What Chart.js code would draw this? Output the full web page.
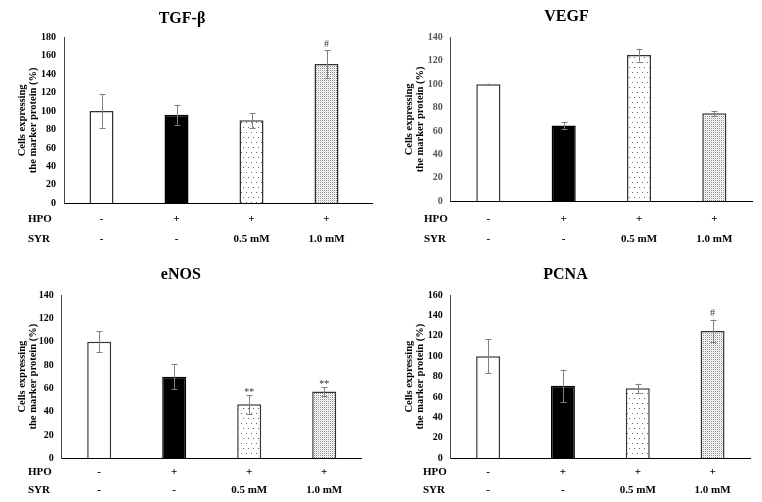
<!DOCTYPE html>
<html><head><meta charset="utf-8">
<script src="https://cdn.jsdelivr.net/npm/chart.js@4.4.1/dist/chart.umd.min.js"></script>
<style>
html,body{margin:0;padding:0;background:#fff;overflow:hidden;}
#wrap{position:relative;width:762px;height:502px;background:#fff;}
canvas{position:absolute;}
</style></head><body>
<div id="wrap">
<canvas id="c1" width="381" height="251" style="left:0;top:0"></canvas>
<canvas id="c2" width="381" height="251" style="left:381px;top:0"></canvas>
<canvas id="c3" width="381" height="251" style="left:0;top:251px"></canvas>
<canvas id="c4" width="381" height="251" style="left:381px;top:251px"></canvas>
</div>
<script>
// ---- data ----
const hpoRow = ['-', '+', '+', '+'];
const syrRow = ['-', '-', '0.5 mM', '1.0 mM'];
const rowNames = ['HPO', 'SYR'];
const yTitle = ['Cells expressing', 'the marker protein (%)'];

const tgfMeans = [100, 96, 90, 151];
const tgfErrors = [18, 11, 8, 15];
const tgfMarks = ['', '', '', '#'];
const tgfMax = 180;

const vegfMeans = [100, 64.8, 124.8, 75.2];
const vegfErrors = [0.5, 3, 5.5, 2.3];
const vegfMarks = ['', '', '', ''];
const vegfMax = 140;

const enosMeans = [100, 70, 46.3, 57.3];
const enosErrors = [9, 11, 8, 3.6];
const enosMarks = ['', '', '**', '**'];
const enosMax = 140;

const pcnaMeans = [100, 71, 68.6, 124.7];
const pcnaErrors = [16.5, 16, 4.5, 11.2];
const pcnaMarks = ['', '', '', '#'];
const pcnaMax = 160;

const yStep = 20;

// ---- styles ----
const SERIF = '"Liberation Serif", "Times New Roman", serif';

function sparsePattern() {
  const c = document.createElement('canvas'); c.width = 5; c.height = 10;
  const g = c.getContext('2d');
  g.fillStyle = '#fff'; g.fillRect(0, 0, 5, 10);
  g.fillStyle = '#666';
  g.fillRect(1, 2, 1, 1); g.fillRect(3, 7, 1, 1);
  return g.createPattern(c, 'repeat');
}
function densePattern() {
  const c = document.createElement('canvas'); c.width = 2; c.height = 2;
  const g = c.getContext('2d');
  g.fillStyle = '#ffffff'; g.fillRect(0, 0, 2, 2);
  g.fillStyle = '#8e8e8e'; g.fillRect(0, 0, 1, 1);
  g.fillStyle = '#e0e0e0'; g.fillRect(1, 1, 1, 1);
  return g.createPattern(c, 'repeat');
}
const fills = ['#ffffff', '#000000', sparsePattern(), densePattern()];
const borders = ['#333333', '#000000', '#333333', '#333333'];

const extras = {
  id: 'extras',
  afterDatasetsDraw(chart, args, opts) {
    const ctx = chart.ctx, ys = chart.scales.y;
    const meta = chart.getDatasetMeta(0);
    const vals = chart.data.datasets[0].data;
    ctx.save();
    meta.data.forEach((bar, i) => {
      const m = vals[i], e = opts.errors[i];
      const yt = ys.getPixelForValue(m + e), yb = ys.getPixelForValue(m - e);
      const x = Math.round(bar.x) + 0.5;
      ctx.strokeStyle = '#808080'; ctx.lineWidth = 1;
      ctx.beginPath();
      ctx.moveTo(x, yt); ctx.lineTo(x, yb);
      ctx.moveTo(x - 3, Math.round(yt) + 0.5); ctx.lineTo(x + 3, Math.round(yt) + 0.5);
      ctx.moveTo(x - 3, Math.round(yb) + 0.5); ctx.lineTo(x + 3, Math.round(yb) + 0.5);
      ctx.stroke();
      const mk = opts.marks[i];
      if (mk) {
        ctx.fillStyle = '#333';
        ctx.font = '10px ' + SERIF;
        ctx.textAlign = 'center'; ctx.textBaseline = 'middle';
        ctx.fillText(mk, bar.x, yt - (mk === '#' ? 6 : 3));
      }
    });
    ctx.restore();
  },
  afterDraw(chart, args, opts) {
    const ctx = chart.ctx, xs = chart.scales.x, area = chart.chartArea;
    ctx.save();
    if (opts.extend) {
      const y = Math.round(area.bottom) + 0.5;
      ctx.strokeStyle = '#000'; ctx.lineWidth = 1;
      ctx.beginPath(); ctx.moveTo(area.right, y); ctx.lineTo(area.right + opts.extend, y); ctx.stroke();
    }
    ctx.fillStyle = '#000';
    ctx.font = 'bold 11px ' + SERIF;
    ctx.textAlign = 'left'; ctx.textBaseline = 'middle';
    rowNames.forEach((n, i) => {
      ctx.fillText(n, opts.rowLabelX, xs.top + opts.rowPad + opts.rowLH * (i + 0.5));
    });
    ctx.restore();
  }
};

function makeChart(id, cfg) {
  new Chart(document.getElementById(id), {
    type: 'bar',
    data: {
      labels: hpoRow.map((h, i) => [h, syrRow[i]]),
      datasets: [{
        data: cfg.means,
        backgroundColor: fills,
        borderColor: borders,
        borderWidth: 1.5,
        barPercentage: 0.32,
        categoryPercentage: 1
      }]
    },
    options: {
      responsive: false, animation: false, devicePixelRatio: 1,
      layout: { padding: { left: 0, right: cfg.padRight, top: 0, bottom: 0 } },
      plugins: {
        legend: { display: false }, tooltip: { enabled: false },
        title: {
          display: true, text: cfg.title, color: '#000',
          font: { family: SERIF, size: 16, weight: 'bold', lineHeight: '18px' },
          padding: { top: cfg.titleTop, bottom: cfg.titleBottom }
        },
        extras: { errors: cfg.errors, marks: cfg.marks, extend: cfg.extend || 0,
          rowLabelX: cfg.rowLabelX, rowPad: cfg.rowPad, rowLH: cfg.rowLH }
      },
      scales: {
        x: {
          grid: { display: false, drawTicks: false },
          border: { display: true, color: '#000', width: 1 },
          ticks: { color: '#000', maxRotation: 0, autoSkip: false, padding: cfg.rowPad,
            font: { family: SERIF, size: 11, weight: 'bold', lineHeight: cfg.rowLH + 'px' } },
          afterFit(s) { s.height = cfg.xH; }
        },
        y: {
          min: 0, max: cfg.max,
          ticks: { stepSize: yStep, color: cfg.tickColor, padding: 8,
            font: { family: SERIF, size: 10, weight: 'bold' } },
          grid: { display: false, drawTicks: false },
          border: { display: true, color: '#444', width: 1 },
          title: { display: true, text: yTitle, color: '#000',
            font: { family: SERIF, size: 10.5, weight: 'bold', lineHeight: '11px' },
            padding: { top: cfg.yTitlePad, bottom: 0 } },
          afterFit(s) { s.width = cfg.left; }
        }
      }
    },
    plugins: [extras]
  });
}

makeChart('c1', { title: 'TGF-β', means: tgfMeans, errors: tgfErrors, marks: tgfMarks, max: tgfMax,
  left: 64, padRight: 17, extend: 9, titleTop: 10, titleBottom: 9.3, xH: 47.7,
  rowPad: 6, rowLH: 20, rowLabelX: 28, yTitlePad: 16.5, tickColor: '#000' });
makeChart('c2', { title: 'VEGF', means: vegfMeans, errors: vegfErrors, marks: vegfMarks, max: vegfMax,
  left: 69.7, padRight: 10, titleTop: 8, titleBottom: 11.3, xH: 49.7,
  rowPad: 8.2, rowLH: 19.5, rowLabelX: 43, yTitlePad: 22.5, tickColor: '#555' });
makeChart('c3', { title: 'eNOS', means: enosMeans, errors: enosErrors, marks: enosMarks, max: enosMax,
  left: 61.7, padRight: 19.3, titleTop: 15, titleBottom: 11, xH: 43.7,
  rowPad: 4.7, rowLH: 18, rowLabelX: 28, yTitlePad: 16.5, tickColor: '#000' });
makeChart('c4', { title: 'PCNA', means: pcnaMeans, errors: pcnaErrors, marks: pcnaMarks, max: pcnaMax,
  left: 69.7, padRight: 12, titleTop: 15, titleBottom: 11, xH: 43.7,
  rowPad: 4.7, rowLH: 18, rowLabelX: 42, yTitlePad: 22.5, tickColor: '#000' });
</script>
</body></html>
